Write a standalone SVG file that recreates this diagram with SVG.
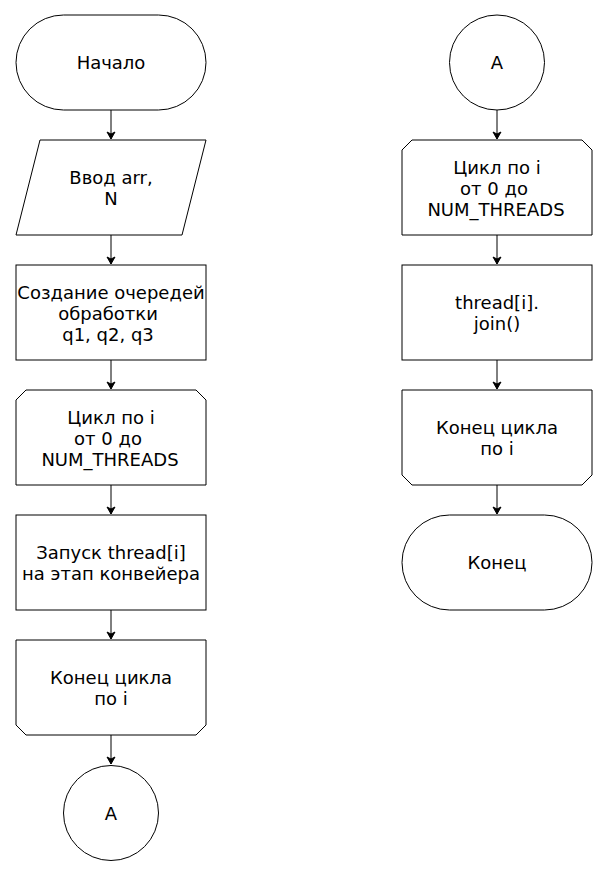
<svg xmlns="http://www.w3.org/2000/svg" width="607" height="875" viewBox="0 0 607 875">
<defs>
<marker id="ah" markerWidth="10" markerHeight="10" refX="8" refY="5" orient="auto" markerUnits="userSpaceOnUse">
<path d="M1,1 L8,5 L1,9 L3,5 Z" fill="#000" stroke="#000" stroke-width="1"/>
</marker>
</defs>
<style>
.s{fill:#fff;stroke:#000;stroke-width:1}
.t{font-family:"DejaVu Sans",sans-serif;font-size:18px;fill:#000;text-anchor:middle}
.c{fill:none;stroke:#000;stroke-width:1}
</style>
<rect width="607" height="875" fill="#fff"/>
<g id="start"><rect class="s" x="16" y="15" width="190" height="95" rx="47.5"/><text class="t" x="111" y="69">Начало</text></g>
<g id="input"><path class="s" d="M40,140 H206 L182,235 H16 Z"/><text class="t"><tspan x="111" y="184">Ввод arr,</tspan><tspan x="111" y="205">N</tspan></text></g>
<g id="queues"><rect class="s" x="16" y="265" width="190" height="95"/><text class="t"><tspan x="111" y="298.5">Создание очередей</tspan><tspan x="108" y="319.5">обработки</tspan><tspan x="108" y="340.5">q1, q2, q3</tspan></text></g>
<g id="loop1"><path class="s" d="M26,390 H196 L206,400 V485 H16 V400 Z"/><text class="t"><tspan x="111" y="424">Цикл по i</tspan><tspan x="108" y="445">от 0 до</tspan><tspan x="110" y="466">NUM_THREADS</tspan></text></g>
<g id="launch"><rect class="s" x="16" y="515" width="190" height="95"/><text class="t"><tspan x="111" y="559">Запуск thread[i]</tspan><tspan x="111" y="580">на этап конвейера</tspan></text></g>
<g id="loopend1"><path class="s" d="M16,640 H206 V725 L196,735 H26 L16,725 Z"/><text class="t"><tspan x="111" y="684">Конец цикла</tspan><tspan x="111" y="705">по i</tspan></text></g>
<g id="connA1"><circle class="s" cx="111" cy="813" r="47.5"/><text class="t" x="111" y="819.5">A</text></g>
<g id="connA2"><circle class="s" cx="497" cy="62.5" r="47.5"/><text class="t" x="497" y="69">A</text></g>
<g id="loop2"><path class="s" d="M412,140 H582 L592,150 V235 H402 V150 Z"/><text class="t"><tspan x="497" y="174">Цикл по i</tspan><tspan x="494" y="195">от 0 до</tspan><tspan x="496" y="216">NUM_THREADS</tspan></text></g>
<g id="join"><rect class="s" x="402" y="265" width="190" height="95"/><text class="t"><tspan x="497" y="309">thread[i].</tspan><tspan x="497" y="330">join()</tspan></text></g>
<g id="loopend2"><path class="s" d="M402,390 H592 V475 L582,485 H412 L402,475 Z"/><text class="t"><tspan x="497" y="434">Конец цикла</tspan><tspan x="497" y="455">по i</tspan></text></g>
<g id="end"><rect class="s" x="402" y="515" width="190" height="95" rx="47.5"/><text class="t" x="497" y="569">Конец</text></g>
<g id="connectors">
<path class="c" d="M111,110 V139" marker-end="url(#ah)"/>
<path class="c" d="M111,235 V264" marker-end="url(#ah)"/>
<path class="c" d="M111,360 V389" marker-end="url(#ah)"/>
<path class="c" d="M111,485 V514" marker-end="url(#ah)"/>
<path class="c" d="M111,610 V639" marker-end="url(#ah)"/>
<path class="c" d="M111,735 V764" marker-end="url(#ah)"/>
<path class="c" d="M497,110 V139" marker-end="url(#ah)"/>
<path class="c" d="M497,235 V264" marker-end="url(#ah)"/>
<path class="c" d="M497,360 V389" marker-end="url(#ah)"/>
<path class="c" d="M497,485 V514" marker-end="url(#ah)"/>
</g>
</svg>
